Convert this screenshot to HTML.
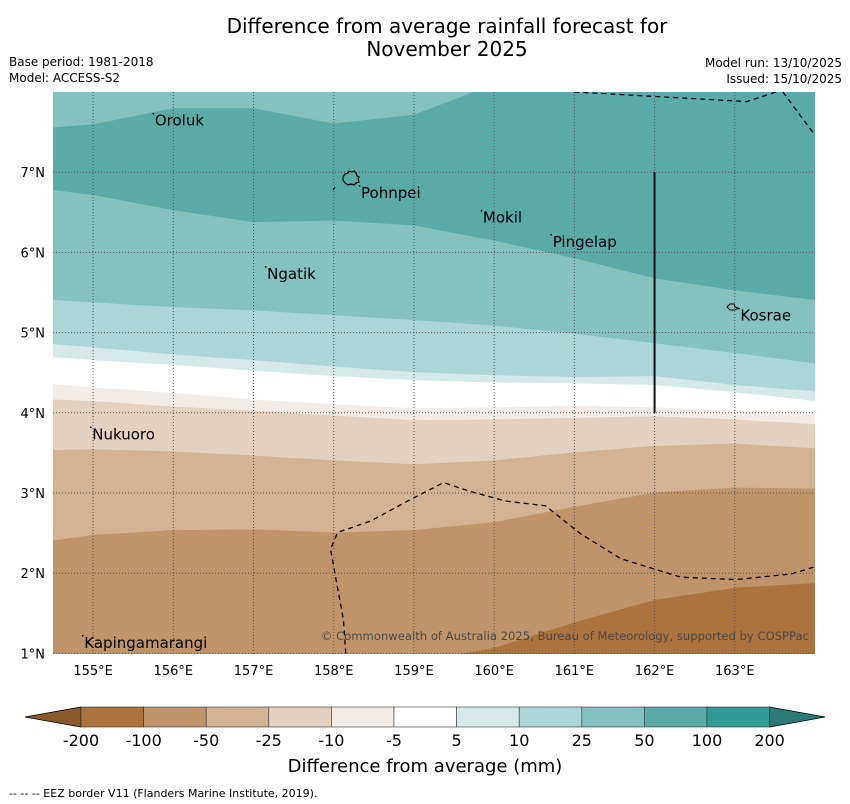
<!DOCTYPE html>
<html><head><meta charset="utf-8"><style>
body{margin:0;background:#fff;}
svg{display:block;font-family:"DejaVu Sans","Liberation Sans",sans-serif;}
</style></head><body>
<svg id="chart" width="850" height="804" viewBox="0 0 850 804" xmlns="http://www.w3.org/2000/svg">
<text x="447" y="33" font-size="20" text-anchor="middle">Difference from average rainfall forecast for</text>
<text x="447" y="56" font-size="20" text-anchor="middle">November 2025</text>
<text x="9" y="66" font-size="12">Base period: 1981-2018</text>
<text x="9" y="82" font-size="12">Model: ACCESS-S2</text>
<text x="842" y="67" font-size="12" text-anchor="end">Model run: 13/10/2025</text>
<text x="842" y="83" font-size="12" text-anchor="end">Issued: 15/10/2025</text>
<defs><clipPath id="pc"><rect x="53" y="92" width="762" height="562"/></clipPath></defs>
<g id="map" clip-path="url(#pc)"></g>
<g id="axes"></g>
<g id="cbar"></g>
<text x="425" y="772" font-size="18" text-anchor="middle">Difference from average (mm)</text>
<text x="9" y="797" font-size="11">--  --  -- EEZ border V11 (Flanders Marine Institute, 2019).</text>
</svg>
<script>
const lons=[154.5,155,156,157,158,159,160,161,162,163,164];
const b1=[7.56,7.60,7.80,7.80,7.61,7.72,8.1,8.1,8.1,8.1,8.1];
const b2=[6.78,6.72,6.53,6.38,6.40,6.34,6.15,5.93,5.68,5.53,5.41];
const b3=[5.41,5.38,5.32,5.28,5.22,5.16,5.09,4.99,4.87,4.75,4.62];
const b4=[4.86,4.82,4.73,4.66,4.58,4.51,4.47,4.45,4.46,4.35,4.27];
const b5=[4.70,4.66,4.60,4.53,4.46,4.41,4.38,4.37,4.35,4.26,4.15];
const b6=[4.36,4.32,4.25,4.17,4.11,4.06,4.07,4.09,4.07,4.03,3.98];
const b7=[4.17,4.15,4.08,4.03,3.97,3.91,3.92,3.94,3.96,3.92,3.86];
const b8=[3.54,3.55,3.52,3.47,3.41,3.36,3.41,3.51,3.59,3.62,3.56];
const b9=[2.41,2.48,2.54,2.55,2.51,2.54,2.64,2.83,3.01,3.07,3.06];
const b10=[0.9,0.9,0.9,0.9,0.9,0.9,1.07,1.39,1.67,1.82,1.88];
const cbLevels=["-200","-100","-50","-25","-10","-5","5","10","25","50","100","200"];
const cbColors=["#ab733e","#c0946a","#d3b394","#e3d0bf","#f2ece8","#ffffff","#d5e9e8","#acd6d5","#84c1bf","#5aaaaa","#339a98"];
const lonTicks=[155,156,157,158,159,160,161,162,163];
const latTicks=[1,2,3,4,5,6,7];
const eezBottomLon=[158.15,158.12,157.96,158.05,158.46,158.96,159.37,159.7,160.14,160.64,161.08,161.58,162.33,163.01,163.7,164.0];
const eezBottomLat=[1.0,1.42,2.3,2.51,2.65,2.92,3.13,3.02,2.9,2.84,2.49,2.18,1.95,1.92,1.99,2.08];
const eezTopLon=[161.0,163.15,163.6];
const eezTopLat=[8.0,7.88,8.03];
const eezTop2Lon=[163.6,164.0];
const eezTop2Lat=[8.0,7.46];
const islands=[["Oroluk",155.77,7.58],["Pohnpei",158.34,6.68],["Mokil",159.86,6.37],["Pingelap",160.73,6.07],["Ngatik",157.17,5.67],["Kosrae",163.07,5.15],["Nukuoro",154.99,3.67],["Kapingamarangi",154.89,1.07]];
const X=lon=>53+(lon-154.5)*80.21;
const Y=lat=>92+(8-lat)*80.2;
const NS="http://www.w3.org/2000/svg";
function mk(tag,attrs,parent){const e=document.createElementNS(NS,tag);for(const k in attrs)e.setAttribute(k,attrs[k]);parent.appendChild(e);return e;}
const map=document.getElementById('map');
const bg=mk('rect',{x:53,y:92,width:762,height:562,fill:cbColors[0]},map);


const bounds=[b10,b9,b8,b7,b6,b5,b4,b3,b2,b1];
const aboveColors=[cbColors[1],cbColors[2],cbColors[3],cbColors[4],cbColors[5],cbColors[6],cbColors[7],cbColors[8],cbColors[9],cbColors[8]];
bounds.forEach((b,i)=>{
  let d='M'+X(lons[0])+','+Y(8.5);
  lons.forEach((lo,j)=>{d+=' L'+X(lo).toFixed(1)+','+Y(b[j]).toFixed(1);});
  d+=' L'+X(lons[lons.length-1])+','+Y(8.5)+' Z';
  const p=mk('path',{d:d,fill:aboveColors[i],stroke:aboveColors[i],'stroke-width':0.5},map);
  
  
});
lonTicks.forEach(lo=>{const l=mk('line',{x1:X(lo),x2:X(lo),y1:92,y2:654,stroke:'#555','stroke-width':1,'stroke-dasharray':'1,2'},map);

});
latTicks.forEach(la=>{const l=mk('line',{x1:53,x2:815,y1:Y(la),y2:Y(la),stroke:'#555','stroke-width':1,'stroke-dasharray':'1,2'},map);

});
function pl(lo,la,name){let d='';lo.forEach((v,i)=>{d+=(i?' L':'M')+X(v).toFixed(1)+','+Y(la[i]).toFixed(1);});
const p=mk('path',{d:d,fill:'none',stroke:'#000','stroke-width':1.3,'stroke-dasharray':'5,4'},map);

}
pl(eezBottomLon,eezBottomLat,'eez-border-south');
pl(eezTopLon,eezTopLat,'eez-border-north');
pl(eezTop2Lon,eezTop2Lat,'eez-border-northeast');
const sl=mk('line',{x1:X(162),x2:X(162),y1:Y(7),y2:Y(4),stroke:'#111','stroke-width':2},map);


const pi=mk('path',{d:'M343,177 l2,-3 3,-1 1,-2 3,1 2,-1 2,2 1,3 2,1 -1,2 1,3 -3,1 -2,2 -3,-1 -3,1 -3,-2 -2,-3 Z',fill:'none',stroke:'#000','stroke-width':1.2},map);


const pd=mk('line',{x1:333,y1:190,x2:335,y2:187,stroke:'#000','stroke-width':1.2},map);


const ki=mk('path',{d:'M727,307 l3,-3 4,0 1,3 3,1 -3,2 -5,0 Z',fill:'none',stroke:'#000','stroke-width':1.1},map);


islands.forEach(s=>{
  const dot=mk('circle',{cx:X(s[1])-1.5,cy:Y(s[2])-12,r:0.9,fill:'#000'},map);
  
  
  const t=mk('text',{x:X(s[1]),y:Y(s[2]),'font-size':15,fill:'#000'},map);
  t.textContent=s[0];
  
  
});
const cp=mk('text',{x:809,y:640,'font-size':11.6,fill:'#4a4a4a','text-anchor':'end'},map);
cp.textContent='© Commonwealth of Australia 2025, Bureau of Meteorology, supported by COSPPac';


const ax=document.getElementById('axes');
lonTicks.forEach(lo=>{const t=mk('text',{x:X(lo),y:675,'font-size':13,'text-anchor':'middle'},ax);t.textContent=lo+'°E';

});
latTicks.forEach(la=>{const t=mk('text',{x:45,y:Y(la)+5,'font-size':13,'text-anchor':'end'},ax);t.textContent=la+'°N';

});
const cb=document.getElementById('cbar');
const cx0=81,cw=62.6,cy=707,ch=20;
const tl=mk('polygon',{points:`25,${cy+ch/2} ${cx0},${cy} ${cx0},${cy+ch}`,fill:'#8a5a2c',stroke:'#000','stroke-width':0.8},cb);


const xe=cx0+cw*cbColors.length;
const tr=mk('polygon',{points:`${xe},${cy} 825,${cy+ch/2} ${xe},${cy+ch}`,fill:'#2c7a78',stroke:'#000','stroke-width':0.8},cb);


cbColors.forEach((c,i)=>{const r=mk('rect',{x:cx0+cw*i,y:cy,width:cw,height:ch,fill:c,stroke:'#333','stroke-width':0.6},cb);

});
cbLevels.forEach((v,i)=>{const t=mk('text',{x:cx0+cw*i,y:746,'font-size':16,'text-anchor':'middle'},cb);t.textContent=v;

});
</script>
</body></html>
